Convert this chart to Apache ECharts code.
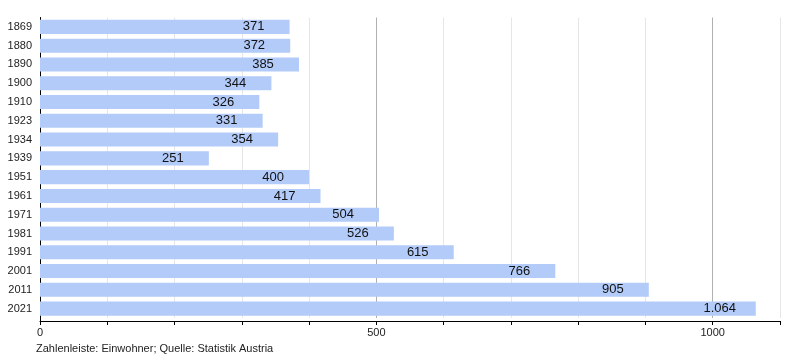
<!DOCTYPE html>
<html>
<head>
<meta charset="utf-8">
<script src="https://cdn.jsdelivr.net/npm/echarts@6/dist/echarts.min.js"></script>
<style>
html,body{margin:0;padding:0;background:#fff;}
#chart{width:800px;height:360px;}
</style>
</head>
<body>
<div id="chart"></div>
<script>
const years = ['1869','1880','1890','1900','1910','1923','1934','1939','1951','1961','1971','1981','1991','2001','2011','2021'];
const population = [371,372,385,344,326,331,354,251,400,417,504,526,615,766,905,1064];
const xTickLabels = [0,500,1000];
const caption = 'Zahlenleiste: Einwohner; Quelle: Statistik Austria';

const chart = echarts.init(document.getElementById('chart'), null, {renderer:'canvas'});
const fmt = v => v >= 1000 ? Math.floor(v/1000) + '.' + String(v%1000).padStart(3,'0') : String(v);
chart.setOption({
  animation:false,
  backgroundColor:'#fff',
  textStyle:{fontFamily:'Liberation Sans, Arial, sans-serif'},
  grid:{left:40,right:20,top:17.5,bottom:42,containLabel:false},
  graphic:[
    {type:'text',left:36,top:343,style:{text:caption,fontSize:11,fill:'#222',fontFamily:'Liberation Sans, Arial, sans-serif'}},
    {type:'line',shape:{x1:40.5,y1:317,x2:40.5,y2:321},style:{stroke:'#000',lineWidth:1}}
  ],
  xAxis:{
    type:'value',min:0,max:1100,interval:100,offset:3,
    axisLine:{show:true,lineStyle:{color:'#000',width:1}},
    axisTick:{show:true,length:4,lineStyle:{color:'#000'}},
    axisLabel:{fontSize:11,color:'#222',margin:6,
      formatter:v=> xTickLabels.indexOf(v)>=0 ? String(v) : ''},
    splitLine:{show:true,lineStyle:{color:['#b0b0b0','#e6e6e6','#e6e6e6','#e6e6e6','#e6e6e6'],width:1}}
  },
  yAxis:{
    type:'category',data:years,inverse:true,
    axisLine:{show:true,onZero:false,lineStyle:{color:'#000',width:1}},
    axisTick:{show:false},
    axisLabel:{fontSize:11,color:'#222',margin:8},
    splitLine:{show:false}
  },
  series:[{
    type:'bar',data:population,barCategoryGap:'25%',
    itemStyle:{color:'#b3cbf9'},
    label:{show:true,position:'insideRight',distance:36,align:'center',
      fontSize:13,color:'#111',formatter:p=>fmt(p.value)}
  }]
});
</script>
</body>
</html>
